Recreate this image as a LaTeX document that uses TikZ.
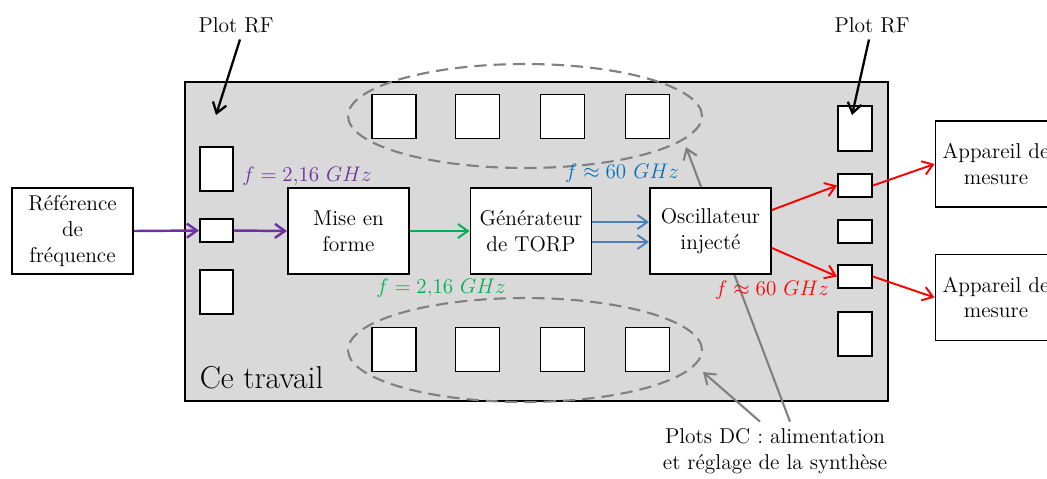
\documentclass[tikz,border=0pt]{standalone}
\usepackage{tikz}
\usetikzlibrary{arrows.meta, calc}

\definecolor{cviolet}{HTML}{7030A0}
\definecolor{cvert}{HTML}{00B050}
\definecolor{cbleu}{HTML}{4F81BD}
\definecolor{cbleutxt}{HTML}{0070C0}
\definecolor{crouge}{HTML}{FF0000}
\definecolor{cgris}{HTML}{D9D9D9}
\definecolor{cgrisf}{HTML}{808080}

\begin{document}
\begin{tikzpicture}[x=0.02cm, y=-0.02cm, >={Straight Barb[length=2mm, width=2.8mm]}, line width=1.1pt,
  font=\fontsize{12.2}{14.6}\selectfont,
  bloc/.style={draw, fill=white, minimum width=2.42cm, minimum height=1.72cm, align=center, inner sep=2pt},
  pad/.style={draw, fill=white, minimum width=0.66cm, minimum height=0.88cm, inner sep=0pt},
  dc/.style={draw=cgrisf, line width=1.2pt, dash pattern=on 7pt off 4pt}]
  \useasboundingbox (0,0) rectangle (1047,478);
  % puce
  \draw[fill=cgris] (185,82) rectangle (888,401);
  \node[anchor=base west, font=\fontsize{18}{21}\selectfont] (travail) at (193,388) {Ce travail};
  \draw[dc] (525,116) ellipse [x radius=3.54cm, y radius=1.04cm];
  \draw[dc] (525,350) ellipse [x radius=3.54cm, y radius=1.04cm];
  % legende DC (sous les blocs)
  \node[align=center] (dcleg) at (775,451) {Plots DC : alimentation\\et réglage de la synthèse};
  \coordinate (dcT) at (686,147);
  \coordinate (dcB) at (703,372);
  \draw[->, cgrisf, line width=1.2pt] ([xshift=0.3cm]dcleg.north) -- (dcT);
  \draw[->, cgrisf, line width=1.2pt] ([xshift=-0.3cm]dcleg.north) -- (dcB);
  % plots
  \node[pad] (padL1) at (216.5,169) {};
  \node[pad, minimum height=0.46cm] (padL2) at (216.5,230.5) {};
  \node[pad] (padL3) at (216.5,292) {};
  \foreach \x [count=\i] in {394,477.5,562.5,647.5} {
    \node[pad, minimum width=0.88cm] (padT\i) at (\x,116.5) {};
    \node[pad, minimum width=0.88cm] (padB\i) at (\x,349.5) {};
  }
  \node[pad, minimum width=0.68cm, minimum height=0.9cm] (padR1) at (855,128.5) {};
  \node[pad, minimum width=0.68cm, minimum height=0.46cm] (padR2) at (855,185.5) {};
  \node[pad, minimum width=0.68cm, minimum height=0.46cm] (padR3) at (855,231.5) {};
  \node[pad, minimum width=0.68cm, minimum height=0.46cm] (padR4) at (855,276.5) {};
  \node[pad, minimum width=0.68cm] (padR5) at (855,334) {};
  % blocs
  \node[bloc] (ref) at (72.5,231) {Référence\\de\\fréquence};
  \node[bloc] (mef) at (348.5,231) {Mise en\\forme};
  \node[bloc] (gen) at (531,231) {Générateur\\de TORP};
  \node[bloc] (osc) at (710.5,231) {Oscillateur\\injecté};
  \node[bloc] (app1) at (996,164) {Appareil de\\mesure};
  \node[bloc] (app2) at (996,297.5) {Appareil de\\mesure};
  % liaisons
  \draw[->, cviolet, line width=1.4pt] (ref.east) -- (padL2.west);
  \draw[->, cviolet, line width=1.4pt] (padL2.east) -- (mef.west);
  \draw[->, cvert] (mef) -- (gen);
  \draw[->, cbleu] ([yshift=0.18cm]gen.east) -- ([yshift=0.18cm]osc.west);
  \draw[->, cbleu] ([yshift=-0.22cm]gen.east) -- ([yshift=-0.22cm]osc.west);
  \draw[->, crouge] ([yshift=0.42cm]osc.east) -- (padR2.west);
  \draw[->, crouge] ([yshift=-0.34cm]osc.east) -- (padR4.west);
  \draw[->, crouge] (padR2.east) -- (app1.west);
  \draw[->, crouge] (padR4.east) -- (app2.west);
  \node[text=cviolet] (fref) at (307,176) {$f = 2{,}16\ GHz$};
  \node[text=cvert] (fmef) at (441,288) {$f = 2{,}16\ GHz$};
  \node[text=cbleutxt] (fgen) at (622,173) {$f \approx 60\ GHz$};
  \node[text=crouge] (fosc) at (772,290) {$f \approx 60\ GHz$};
  % plots RF
  \node (rfL) at (236,25) {Plot RF};
  \node (rfR) at (872,25) {Plot RF};
  \coordinate (rfLbout) at (216,115);
  \coordinate (rfRbout) at (852,115);
  \draw[->, line width=1.3pt] ([xshift=0.08cm]rfL.south) -- (rfLbout);
  \draw[->, line width=1.3pt] ([xshift=-0.06cm]rfR.south) -- (rfRbout);
\end{tikzpicture}
\end{document}
